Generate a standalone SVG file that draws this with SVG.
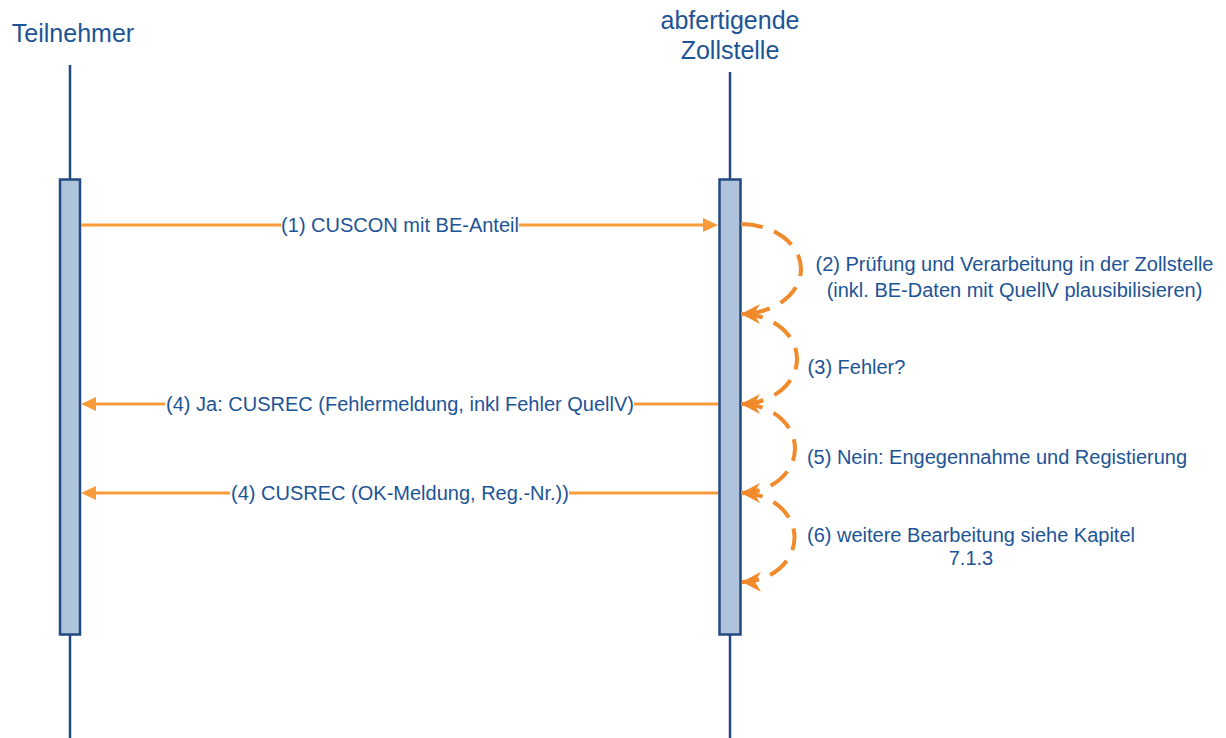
<svg xmlns="http://www.w3.org/2000/svg" width="1226" height="738" viewBox="0 0 1226 738">
<defs>
<style>
.hdr{font-family:"Liberation Sans",Arial,sans-serif;font-size:25px;fill:#1D5496;text-anchor:middle}
.lbl{font-family:"Liberation Sans",Arial,sans-serif;font-size:20px;fill:#1D5496;text-anchor:middle}
.life{stroke:#234A80;stroke-width:2.5;fill:none}
.act{fill:#B0C3DC;stroke:#234A80;stroke-width:2.5}
.msg{stroke:#F89C3B;stroke-width:3;fill:none}
.head{fill:#F89C3B;stroke:none}
.loop{stroke:#F08A2B;stroke-width:4;fill:none;stroke-dasharray:22 12;marker-end:url(#loopArrow)}
</style>
<marker id="loopArrow" markerUnits="userSpaceOnUse" markerWidth="22" markerHeight="22" refX="19" refY="10" orient="auto">
<path d="M0,0 L19,10 L0,20 L6,10 Z" fill="#F08A2B"/>
</marker>
</defs>
<rect width="1226" height="738" fill="#FFFFFF"/>

<g id="teilnehmer">
<text class="hdr" x="73" y="42">Teilnehmer</text>
<line class="life" x1="70" y1="65" x2="70" y2="738"/>
<rect class="act" x="60" y="179.5" width="20" height="455"/>
</g>

<g id="zollstelle">
<text class="hdr" x="730" y="29">abfertigende</text>
<text class="hdr" x="730" y="59">Zollstelle</text>
<line class="life" x1="730" y1="72" x2="730" y2="738"/>
<rect class="act" x="719.5" y="179.5" width="21" height="455"/>
</g>

<g id="connectors">
<g id="msg1">
<line class="msg" x1="81" y1="225" x2="281" y2="225"/>
<line class="msg" x1="519" y1="225" x2="704" y2="225"/>
<polygon class="head" points="718,225 703,218 703,232"/>
<text class="lbl" x="400" y="231.5">(1) CUSCON mit BE-Anteil</text>
</g>
<g id="loop2">
<path class="loop" d="M741,224 A60,45 0 0 1 741,314"/>
<text class="lbl" x="1014.5" y="271">(2) Prüfung und Verarbeitung in der Zollstelle</text>
<text class="lbl" x="1014.5" y="296.5">(inkl. BE-Daten mit QuellV plausibilisieren)</text>
</g>
<g id="loop3">
<path class="loop" d="M741,314 A56,45 0 0 1 741,404"/>
<text class="lbl" x="856.5" y="373.5">(3) Fehler?</text>
</g>
<g id="msg4a">
<line class="msg" x1="718" y1="404" x2="634" y2="404"/>
<line class="msg" x1="165" y1="404" x2="95" y2="404"/>
<polygon class="head" points="81,404 96,397 96,411"/>
<text class="lbl" x="400" y="410.5">(4) Ja: CUSREC (Fehlermeldung, inkl Fehler QuellV)</text>
</g>
<g id="loop5">
<path class="loop" d="M741,404 A54,44.5 0 0 1 741,493"/>
<text class="lbl" x="997" y="464">(5) Nein: Engegennahme und Registierung</text>
</g>
<g id="msg4b">
<line class="msg" x1="718" y1="493" x2="569" y2="493"/>
<line class="msg" x1="230" y1="493" x2="95" y2="493"/>
<polygon class="head" points="81,493 96,486 96,500"/>
<text class="lbl" x="400" y="499.5">(4) CUSREC (OK-Meldung, Reg.-Nr.))</text>
</g>
<g id="loop6">
<path class="loop" d="M741,493 A53,44.5 0 0 1 742,582"/>
<text class="lbl" x="971" y="542">(6) weitere Bearbeitung siehe Kapitel</text>
<text class="lbl" x="971" y="564.5">7.1.3</text>
</g>
</g>
</svg>
